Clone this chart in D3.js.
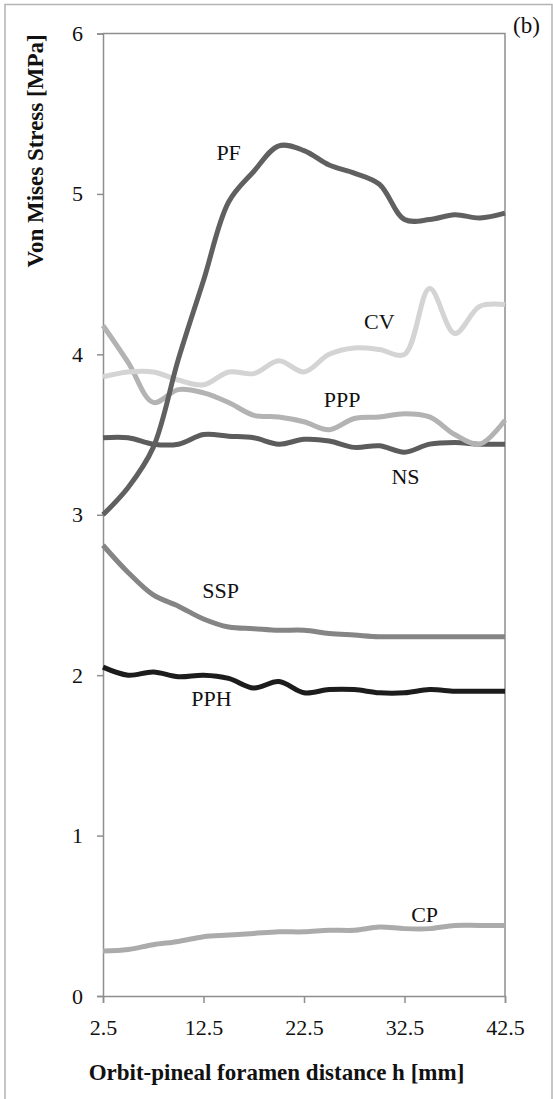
<!DOCTYPE html>
<html>
<head>
<meta charset="utf-8">
<script src="https://cdn.jsdelivr.net/npm/d3@7"></script>
<style>
  html, body { margin: 0; padding: 0; background: #fff; }
  svg { display: block; }
  text { font-family: "Liberation Serif", "Times New Roman", serif; fill: #111; }
</style>
</head>
<body>
<svg id="chart" width="553" height="1099"></svg>
<script>
// ---- data ----
const distances = [2.5, 5, 7.5, 10, 12.5, 15, 17.5, 20, 22.5, 25, 27.5, 30, 32.5, 35, 37.5, 40, 42.5];
const xTicks = [2.5, 12.5, 22.5, 32.5, 42.5];
const yTicks = [0, 1, 2, 3, 4, 5, 6];
const seriesNames = ["CP", "PPH", "SSP", "NS", "PPP", "CV", "PF"];
const CP  = [0.28, 0.29, 0.32, 0.34, 0.37, 0.38, 0.39, 0.40, 0.40, 0.41, 0.41, 0.43, 0.42, 0.42, 0.44, 0.44, 0.44];
const PPH = [2.05, 2.00, 2.02, 1.99, 2.00, 1.98, 1.92, 1.96, 1.89, 1.91, 1.91, 1.89, 1.89, 1.91, 1.90, 1.90, 1.90];
const SSP = [2.81, 2.64, 2.50, 2.43, 2.35, 2.30, 2.29, 2.28, 2.28, 2.26, 2.25, 2.24, 2.24, 2.24, 2.24, 2.24, 2.24];
const NS  = [3.48, 3.48, 3.44, 3.44, 3.50, 3.49, 3.48, 3.44, 3.47, 3.46, 3.42, 3.43, 3.39, 3.44, 3.45, 3.44, 3.44];
const PPP = [4.18, 3.95, 3.70, 3.78, 3.76, 3.70, 3.62, 3.61, 3.58, 3.53, 3.60, 3.61, 3.63, 3.61, 3.50, 3.44, 3.59];
const CV  = [3.86, 3.89, 3.89, 3.84, 3.81, 3.89, 3.88, 3.96, 3.89, 4.00, 4.04, 4.03, 4.00, 4.41, 4.13, 4.30, 4.31];
const PF  = [3.00, 3.17, 3.42, 3.97, 4.46, 4.95, 5.14, 5.30, 5.27, 5.18, 5.13, 5.06, 4.84, 4.84, 4.87, 4.85, 4.88];
const seriesValues = [CP, PPH, SSP, NS, PPP, CV, PF];
const seriesColors = ["#ababab", "#1c1c1c", "#858585", "#5c5c5c", "#b3b3b3", "#d4d4d4", "#606060"];
// label anchors in data units
const labelH = [34.5, 13.3, 14.2, 32.6, 26.3, 30.0, 15.0];
const labelV = [0.46, 1.81, 2.48, 3.19, 3.67, 4.16, 5.21];

// ---- layout ----
const svg = d3.select("#chart");
const plotL = 103, plotR = 505, plotT = 33.5, plotB = 996;
const x = d3.scaleLinear().domain([2.5, 42.5]).range([plotL, plotR]);
const y = d3.scaleLinear().domain([0, 6]).range([plotB, plotT]);
const axisColor = "#8e8e8e";

// outer figure border
svg.append("path")
  .attr("d", `M5,1105 V4.5 H552 V1105`)
  .attr("fill", "none").attr("stroke", "#b4b4b4").attr("stroke-width", 1.5);

// plot frame (top and right)
svg.append("path")
  .attr("d", `M${plotL},${plotT} H${plotR} V${plotB}`)
  .attr("fill", "none").attr("stroke", axisColor).attr("stroke-width", 1.5);

// y axis
const yAxis = svg.append("g").attr("transform", `translate(${plotL},0)`)
  .call(d3.axisLeft(y).tickValues(yTicks).tickSize(6).tickPadding(14).tickFormat(d3.format("d")));
// x axis
const xAxis = svg.append("g").attr("transform", `translate(0,${plotB})`)
  .call(d3.axisBottom(x).tickValues(xTicks).tickSize(7).tickPadding(16).tickFormat(d => d.toFixed(1)));

[yAxis, xAxis].forEach(g => {
  g.select(".domain").attr("stroke", axisColor).attr("stroke-width", 1.5);
  g.selectAll(".tick line").attr("stroke", axisColor).attr("stroke-width", 1.5);
  g.selectAll(".tick text").attr("font-family", "Liberation Serif").attr("font-size", 22).attr("fill", "#111");
});

// series lines
const line = d3.line()
  .x((d, i) => x(distances[i]))
  .y(d => y(d))
  .curve(d3.curveCatmullRom.alpha(0.5));

seriesValues.forEach((vals, k) => {
  svg.append("path")
    .datum(vals)
    .attr("d", line)
    .attr("fill", "none")
    .attr("stroke", seriesColors[k])
    .attr("stroke-width", 5)
    .attr("stroke-linejoin", "round")
    .attr("stroke-linecap", "butt");
});

// series labels
seriesNames.forEach((n, k) => {
  svg.append("text")
    .attr("x", x(labelH[k])).attr("y", y(labelV[k]))
    .attr("text-anchor", "middle")
    .attr("font-size", 22)
    .text(n);
});

// axis titles
svg.append("text")
  .attr("x", 276.5).attr("y", 1080)
  .attr("text-anchor", "middle")
  .attr("font-size", 23).attr("font-weight", "bold")
  .text("Orbit-pineal foramen distance h [mm]");

svg.append("text")
  .attr("transform", "translate(43,151) rotate(-90)")
  .attr("text-anchor", "middle")
  .attr("font-size", 23).attr("font-weight", "bold")
  .text("Von Mises Stress [MPa]");

// panel tag
svg.append("text")
  .attr("x", 513).attr("y", 33)
  .attr("font-size", 23)
  .text("(b)");
</script>
</body>
</html>
